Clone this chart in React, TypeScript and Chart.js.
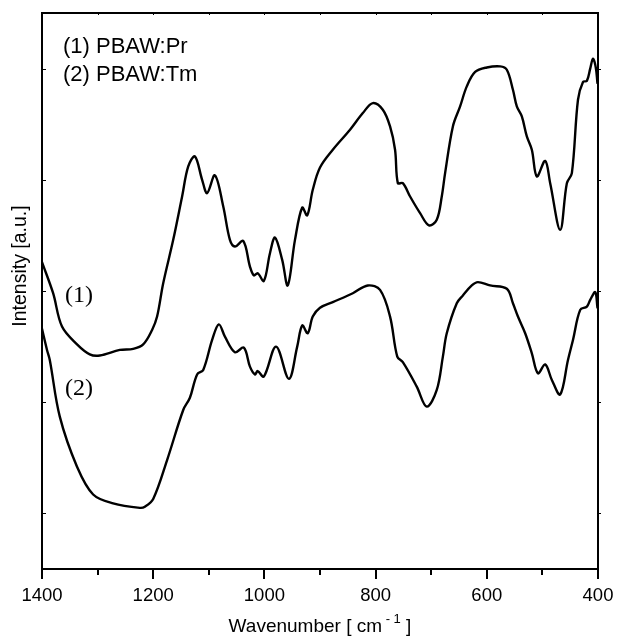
import React, { useEffect, useRef } from "react";
import { Chart, registerables } from "chart.js";

Chart.register(...registerables);

// Wavenumber (cm^-1) and intensity (a.u.) for curve (1) PBAW:Pr
const wn1 = [1400, 1380, 1364, 1337, 1314, 1296, 1260, 1236, 1218, 1202, 1193, 1182, 1164, 1148, 1137, 1125, 1112, 1103, 1089, 1074, 1062, 1053, 1038, 1026, 1019, 1012, 1001, 990, 981, 968, 958, 945, 932, 923, 913, 900, 877, 846, 823, 805, 787, 774, 765, 760, 751, 738, 720, 704, 690, 681, 675, 661, 648, 636, 621, 600, 576, 564, 553, 546, 537, 528, 519, 510, 495, 486, 468, 456, 447, 436, 427, 420, 414, 409, 404, 401];
const int1 = [2.76, 2.48, 2.18, 2.02, 1.93, 1.92, 1.97, 1.98, 2.02, 2.15, 2.27, 2.57, 2.96, 3.35, 3.62, 3.71, 3.5, 3.38, 3.54, 3.26, 2.96, 2.9, 2.95, 2.72, 2.64, 2.66, 2.59, 2.84, 2.98, 2.78, 2.55, 2.96, 3.25, 3.18, 3.41, 3.61, 3.77, 3.95, 4.1, 4.19, 4.13, 3.98, 3.77, 3.47, 3.47, 3.35, 3.2, 3.09, 3.14, 3.35, 3.56, 3.98, 4.16, 4.34, 4.47, 4.51, 4.52, 4.49, 4.31, 4.16, 4.07, 3.89, 3.77, 3.53, 3.67, 3.47, 3.05, 3.47, 3.56, 4.22, 4.38, 4.39, 4.5, 4.59, 4.51, 4.37];

// Wavenumber (cm^-1) and intensity (a.u.) for curve (2) PBAW:Tm
const wn2 = [1400, 1391, 1386, 1368, 1337, 1308, 1272, 1224, 1215, 1200, 1175, 1146, 1134, 1121, 1110, 1094, 1082, 1071, 1053, 1037, 1026, 1017, 1012, 1001, 979, 956, 941, 932, 922, 913, 900, 877, 841, 814, 792, 774, 761, 751, 726, 708, 690, 679, 672, 654, 643, 627, 616, 594, 564, 553, 544, 531, 519, 508, 495, 483, 468, 454, 445, 432, 420, 414, 405, 401];
const int2 = [2.16, 1.97, 1.88, 1.37, 0.92, 0.67, 0.59, 0.55, 0.56, 0.63, 0.98, 1.43, 1.54, 1.75, 1.79, 2.06, 2.2, 2.09, 1.95, 1.99, 1.82, 1.75, 1.78, 1.73, 2.0, 1.71, 2.0, 2.19, 2.12, 2.27, 2.35, 2.4, 2.48, 2.55, 2.51, 2.27, 1.91, 1.86, 1.64, 1.46, 1.61, 1.91, 2.12, 2.39, 2.46, 2.55, 2.58, 2.55, 2.52, 2.39, 2.27, 2.12, 1.94, 1.76, 1.84, 1.7, 1.57, 1.88, 2.06, 2.33, 2.36, 2.42, 2.49, 2.35];

const xMajorTicks = [1400, 1200, 1000, 800, 600, 400];
const xMinorTicks = [1300, 1100, 900, 700, 500];
const yTicks = [0.5, 1.5, 2.5, 3.5, 4.5];
const legendLines = ["(1) PBAW:Pr", "(2) PBAW:Tm"];
const curveLabels = ["(1)", "(2)"];

const SANS = "'Liberation Sans', Arial, Helvetica, sans-serif";
const SERIF = "'Liberation Serif', 'Times New Roman', serif";

const decorPlugin = {
  id: "decor",
  afterDraw(chart: any) {
    const ctx = chart.ctx as CanvasRenderingContext2D;
    const xs = chart.scales.x;
    const ys = chart.scales.y;
    const a = chart.chartArea;
    ctx.save();
    ctx.strokeStyle = "#000";
    ctx.fillStyle = "#000";
    // frame
    ctx.lineWidth = 2;
    ctx.strokeRect(a.left, a.top, a.right - a.left, a.bottom - a.top);
    // bottom ticks (outward)
    ctx.lineWidth = 2;
    ctx.beginPath();
    for (const t of xMajorTicks) {
      const px = Math.round(xs.getPixelForValue(t));
      ctx.moveTo(px, a.bottom);
      ctx.lineTo(px, a.bottom + 10);
    }
    for (const t of xMinorTicks) {
      const px = Math.round(xs.getPixelForValue(t));
      ctx.moveTo(px, a.bottom);
      ctx.lineTo(px, a.bottom + 6);
    }
    ctx.stroke();
    // top small ticks
    ctx.lineWidth = 1;
    ctx.beginPath();
    for (const t of [...xMajorTicks, ...xMinorTicks]) {
      const px = Math.round(xs.getPixelForValue(t)) + 0.5;
      ctx.moveTo(px, a.top);
      ctx.lineTo(px, a.top + 2);
    }
    // left/right ticks
    for (const t of yTicks) {
      const py = Math.round(ys.getPixelForValue(t)) + 0.5;
      ctx.moveTo(a.left, py);
      ctx.lineTo(a.left + 4, py);
      ctx.moveTo(a.right, py);
      ctx.lineTo(a.right + 3, py);
    }
    ctx.stroke();

    // tick labels
    ctx.font = `18.5px ${SANS}`;
    ctx.textAlign = "center";
    ctx.textBaseline = "alphabetic";
    for (const t of xMajorTicks) {
      ctx.fillText(String(t), xs.getPixelForValue(t), 601);
    }

    // x title with superscript
    const main1 = "Wavenumber [ cm";
    const sup = " - 1";
    const end = " ]";
    ctx.font = `19px ${SANS}`;
    const w1 = ctx.measureText(main1).width;
    const w3 = ctx.measureText(end).width;
    ctx.font = `13px ${SANS}`;
    const w2 = ctx.measureText(sup).width;
    const total = w1 + w2 + w3;
    let cx = (a.left + a.right) / 2 - total / 2;
    ctx.textAlign = "left";
    ctx.font = `19px ${SANS}`;
    ctx.fillText(main1, cx, 632);
    cx += w1;
    ctx.font = `13px ${SANS}`;
    ctx.fillText(sup, cx, 623);
    cx += w2;
    ctx.font = `19px ${SANS}`;
    ctx.fillText(end, cx, 632);

    // y title
    ctx.save();
    ctx.translate(21, 266);
    ctx.rotate(-Math.PI / 2);
    ctx.textAlign = "center";
    ctx.textBaseline = "middle";
    ctx.font = `19.5px ${SANS}`;
    ctx.fillText("Intensity [a.u.]", 0, 0);
    ctx.restore();

    // legend text
    ctx.textAlign = "left";
    ctx.textBaseline = "alphabetic";
    ctx.font = `22px ${SANS}`;
    ctx.fillText(legendLines[0], 63, 53);
    ctx.fillText(legendLines[1], 63, 81);

    // curve labels
    ctx.font = `24px ${SERIF}`;
    ctx.fillText(curveLabels[0], 65, 302);
    ctx.fillText(curveLabels[1], 65, 395);

    ctx.restore();
  },
};

export default function App() {
  const ref = useRef<HTMLCanvasElement | null>(null);
  useEffect(() => {
    document.body.style.margin = "0";
    const canvas = ref.current;
    if (!canvas) return;
    const d1 = wn1.map((x, i) => ({ x, y: int1[i] }));
    const d2 = wn2.map((x, i) => ({ x, y: int2[i] }));
    const common = {
      borderColor: "#000",
      borderWidth: 2.4,
      pointRadius: 0,
      fill: false,
      tension: 0.35,
      borderJoinStyle: "round" as const,
      borderCapStyle: "round" as const,
    };
    const chart = new Chart(canvas, {
      type: "line",
      data: {
        datasets: [
          { label: "PBAW:Pr", data: d1, ...common },
          { label: "PBAW:Tm", data: d2, ...common },
        ],
      },
      options: {
        responsive: false,
        animation: false,
        layout: { padding: { left: 42, right: 21, top: 13, bottom: 68 } },
        plugins: { legend: { display: false }, tooltip: { enabled: false } },
        scales: {
          x: { type: "linear", min: 400, max: 1400, reverse: true, display: false },
          y: { type: "linear", min: 0, max: 5, display: false },
        },
      },
      plugins: [decorPlugin],
    });
    return () => chart.destroy();
  }, []);
  return (
    <div style={{ position: "absolute", left: 0, top: 0, width: 619, height: 637, background: "#fff" }}>
      <canvas ref={ref} width={619} height={637} style={{ display: "block" }} />
    </div>
  );
}
